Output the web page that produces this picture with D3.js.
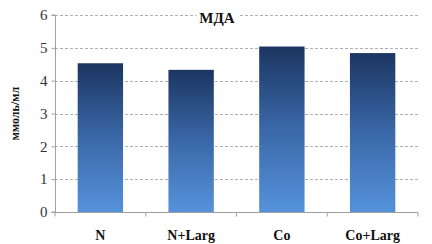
<!DOCTYPE html>
<html><head><meta charset="utf-8">
<script src="https://cdn.jsdelivr.net/npm/d3@7"></script>
<style>body{margin:0;background:#fff}svg{display:block}text{font-family:"Liberation Serif","Times New Roman","DejaVu Serif",serif}</style>
</head><body><svg id="c" width="432" height="244"></svg>
<script>
const categories = ["N", "N+Larg", "Co", "Co+Larg"];
const values = [4.53, 4.33, 5.04, 4.84];
const yTicks = [0, 1, 2, 3, 4, 5, 6];
const title = "МДА";
const yTitle = "ммоль/мл";

const svg = d3.select("#c");
const m = {l: 55, r: 14, t: 15, b: 32};
const W = 432, H = 244;
const x = d3.scaleBand().domain(categories).range([m.l, W - m.r]).paddingInner(0.5).paddingOuter(0.25);
const y = d3.scaleLinear().domain([0, 6]).range([H - m.b, m.t]);

const defs = svg.append("defs");
const g = defs.append("linearGradient").attr("id", "gr").attr("x1", 0).attr("y1", 0).attr("x2", 0).attr("y2", 1);
g.append("stop").attr("offset", "0%").attr("stop-color", "#1c3561");
g.append("stop").attr("offset", "50%").attr("stop-color", "#3a68a8");
g.append("stop").attr("offset", "100%").attr("stop-color", "#5592db");

// gridlines
svg.append("g").selectAll("line").data(yTicks.filter(d => d > 0)).join("line")
  .attr("x1", m.l).attr("x2", W - m.r)
  .attr("y1", d => Math.round(y(d)) + 0.5).attr("y2", d => Math.round(y(d)) + 0.5)
  .attr("stroke", "#b0b0b0").attr("stroke-dasharray", "3,2").attr("stroke-width", 1);

// bars
svg.append("g").selectAll("rect").data(values).join("rect")
  .attr("x", (d, i) => x(categories[i]))
  .attr("width", x.bandwidth())
  .attr("y", d => y(d))
  .attr("height", d => y(0) - y(d))
  .attr("fill", "url(#gr)");

// y axis
const ya = d3.axisLeft(y).tickValues(yTicks).tickSize(4).tickFormat(d3.format("d"));
const yg = svg.append("g").attr("transform", `translate(${m.l + 0.5},0)`).call(ya);
yg.attr("font-family", null);
yg.select(".domain").attr("stroke", "#a0a0a0").attr("d", `M-4,${y(6)}H0V${y(0)}H-4`);
yg.selectAll(".tick line").attr("stroke", "#a0a0a0");
yg.selectAll(".tick text").attr("font-size", 15).attr("fill", "#333").attr("x", -8);

// x axis
const xg = svg.append("g").attr("transform", `translate(0,${Math.round(y(0)) + 0.5})`);
xg.append("line").attr("x1", m.l).attr("x2", W - m.r).attr("stroke", "#a0a0a0");
const step = x.step();
const bounds = categories.map((c, i) => x(c) - (step - x.bandwidth()) / 2).concat([W - m.r]);
xg.selectAll("line.t").data(bounds).join("line").attr("class", "t")
  .attr("x1", d => d).attr("x2", d => d).attr("y1", 0).attr("y2", 4).attr("stroke", "#a0a0a0");
xg.selectAll("text").data(categories).join("text")
  .attr("x", d => x(d) + x.bandwidth() / 2).attr("y", 27)
  .attr("text-anchor", "middle")
  .attr("font-weight", "bold").attr("font-size", 14).attr("fill", "#111").text(d => d);

// title
const tg = svg.append("g");
const bg = tg.append("rect").attr("fill", "#fff");
const tt = tg.append("text").attr("x", 217).attr("y", 23).attr("text-anchor", "middle")
  .attr("font-weight", "bold").attr("font-size", 15).attr("fill", "#111").text(title);
const bb = tt.node().getBBox();
bg.attr("x", bb.x - 3).attr("y", bb.y).attr("width", bb.width + 6).attr("height", bb.height);

// y title
svg.append("text").attr("transform", `translate(19,${(y(0) + y(6)) / 2}) rotate(-90)`)
  .attr("text-anchor", "middle")
  .attr("font-weight", "bold").attr("font-size", 12).attr("fill", "#111").text(yTitle);
</script></body></html>
